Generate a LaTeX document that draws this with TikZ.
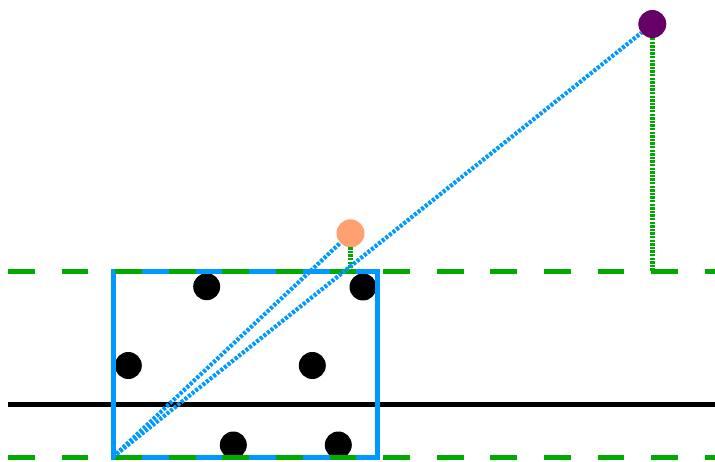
\documentclass[tikz,border=0pt]{standalone}
\begin{document}
\definecolor{cblue}{RGB}{0,153,255}
\definecolor{cgreen}{RGB}{0,170,0}
\definecolor{corange}{RGB}{255,160,112}
\definecolor{cpurple}{RGB}{102,0,102}
\begin{tikzpicture}[x=1pt,y=-1pt,
  blackdot/.style={circle,fill=black,minimum size=27pt,inner sep=0pt,outer sep=0pt},
  colordot/.style={circle,fill=#1,minimum size=28pt,inner sep=0pt,outer sep=0pt},
  bandline/.style={cgreen,line width=5pt,dash pattern=on 26.8pt off 26.8pt},
  axisline/.style={black,line width=5pt},
  sightline/.style={cblue,line width=4.2pt,dash pattern=on 3pt off 1.6pt},
  dropline/.style={cgreen,line width=4.5pt,dash pattern=on 2.4pt off 1.2pt},
  boxstyle/.style={draw=cblue,line width=5pt,rectangle,minimum width=264pt,minimum height=185pt,inner sep=0pt,outer sep=0pt}]
\useasboundingbox (0,0) rectangle (715,462);
% named coordinates
\coordinate (axL) at (8,404);
\coordinate (axR) at (715,404);
\coordinate (topL) at (8,272);
\coordinate (topR) at (715,272);
\coordinate (botL) at (8,457);
\coordinate (botR) at (715,457);
\coordinate (ofoot) at (350.5,272);
\coordinate (pfoot) at (652.3,272);
% axis
\draw[axisline] (axL) -- (axR);
% black dots
\node[blackdot] (d1) at (206.7,286.7) {};
\node[blackdot] (d2) at (363,287) {};
\node[blackdot] (d3) at (128.3,365.5) {};
\node[blackdot] (d4) at (312.3,365.5) {};
\node[blackdot] (d5) at (233.3,445) {};
\node[blackdot] (d6) at (338.3,445) {};
% box
\node[boxstyle] (box) at (245,364.5) {};
% green dashed band lines
\draw[bandline] (topL) -- (topR);
\draw[bandline] (botL) -- (botR);
% coloured dots
\node[colordot=corange] (orange) at (350.5,233.3) {};
\node[colordot=cpurple] (purple) at (652.3,24) {};
% drop lines
\draw[dropline] (orange) -- (ofoot);
\draw[dropline] (purple) -- (pfoot);
% sight lines
\draw[sightline] (box.south west) -- (orange);
\draw[sightline] (box.south west) -- (purple);
\end{tikzpicture}
\end{document}
